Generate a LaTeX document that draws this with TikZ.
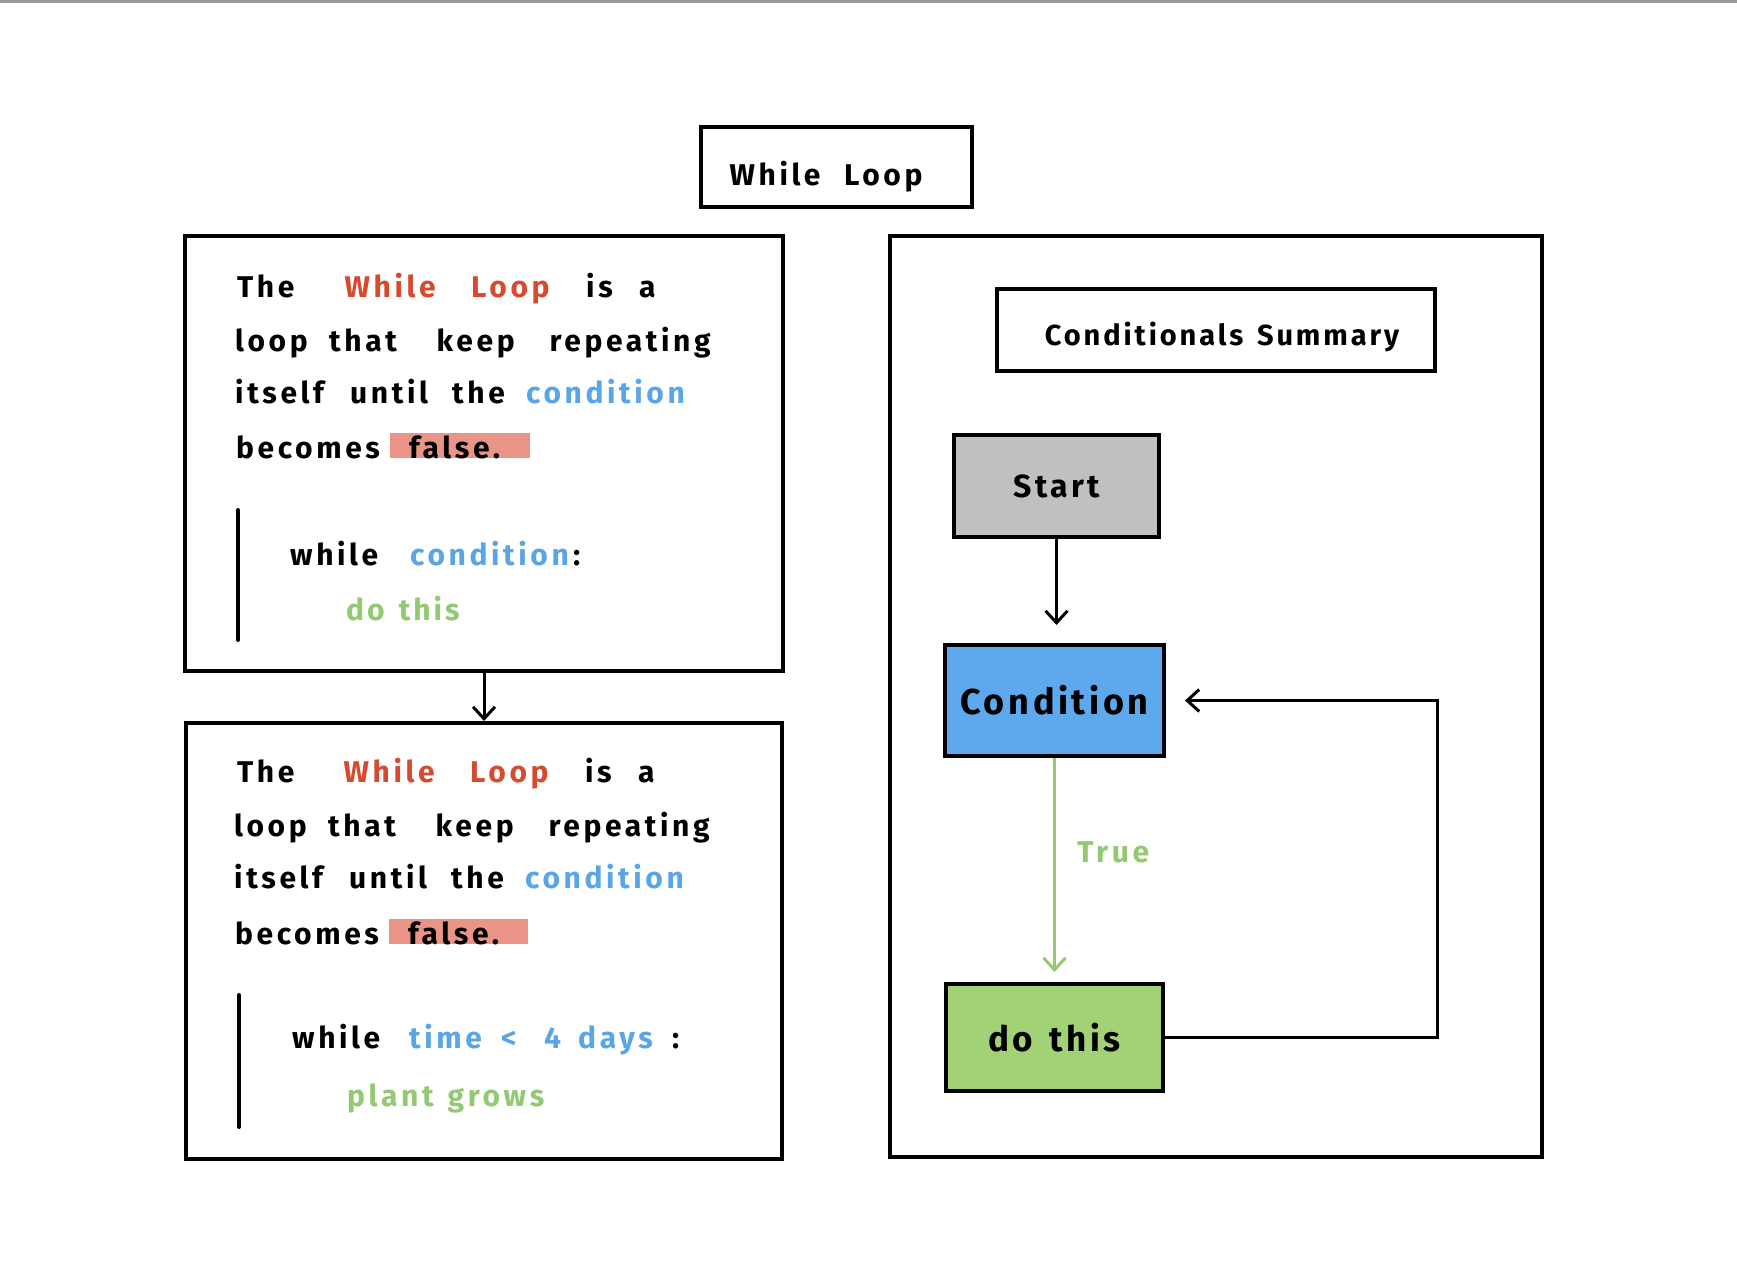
\documentclass[tikz,border=0pt]{standalone}
\usepackage{fontspec}
\setmainfont{Fira Sans}
\newfontfamily\hand[LetterSpace=12,WordSpace=2.2]{Fira Sans}
\newfontfamily\handc[LetterSpace=10,WordSpace=1.4]{Fira Sans}
\newcommand{\wbox}[2]{\makebox[#1pt][l]{#2}}
\usetikzlibrary{arrows.meta,calc}
\definecolor{wred}{HTML}{D64B30}
\definecolor{wblue}{HTML}{5AA5E8}
\definecolor{wgreen}{HTML}{94C973}
\definecolor{hilite}{HTML}{E8887A}
\definecolor{condfill}{HTML}{5EA8EE}
\definecolor{dofill}{HTML}{A3D276}
\definecolor{startfill}{HTML}{C0C0C0}
\definecolor{topline}{HTML}{9A9A9A}
\tikzset{
  box/.style={draw=black, line width=4, rectangle, inner sep=0, fill=white},
  txt/.style={anchor=base west, inner sep=0, font=\hand\bfseries\fontsize{30}{36}\selectfont},
  lbl/.style={font=\hand\bfseries\fontsize{30}{36}\selectfont},
  conn/.style={line width=3, -{Straight Barb[length=12,width=22,line width=3]}},
  bar/.style={line width=4, line cap=round},
  hl/.style={fill=hilite, draw=none, opacity=0.9}
}
\begin{document}
\begin{tikzpicture}[x=1pt,y=-1pt]
\useasboundingbox (0,0) rectangle (1737,1287);
\fill[white] (0,0) rectangle (1737,1287);
\fill[topline] (0,0) rectangle (1737,3);

% title
\node[box, minimum width=271, minimum height=80] (title) at (836.5,167) {};
\node[lbl, anchor=base] (titletxt) at (826,185) {While Loop};

% left boxes
\node[box, minimum width=598, minimum height=435] (lt) at (484,453.5) {};
\node[box, minimum width=596, minimum height=436] (lb) at (484,941) {};
\draw[conn] (lt.south) -- (lb.north);

% top box text
\fill[hl] (390,433) rectangle (530,458);
\node[txt] (t1) at (237,297) {\wbox{107.5}{The}\wbox{126.5}{\textcolor{wred}{While}}\wbox{115}{\textcolor{wred}{Loop}}\wbox{53}{is}a};
\node[txt] (t2) at (235,351) {\wbox{94}{loop}\wbox{107.5}{that}\wbox{113}{keep}repeating};
\node[txt] (t3) at (235,403) {\wbox{115}{itself}\wbox{102}{until}\wbox{74}{the}\textcolor{wblue}{condition}};
\node[txt] (t4) at (236,458) {\wbox{173}{becomes}false.};
\draw[bar] (238,510) -- (238,640);
\node[txt] (t5) at (290,565) {\wbox{120}{while}\wbox{163}{\textcolor{wblue}{condition}}:};
\node[txt, text=wgreen, font=\handc\bfseries\fontsize{30}{36}\selectfont] (t6) at (346,620) {do this};

% bottom box text
\fill[hl] (389,919) rectangle (528,944);
\node[txt] (b1) at (237,782) {\wbox{106.5}{The}\wbox{126.5}{\textcolor{wred}{While}}\wbox{115}{\textcolor{wred}{Loop}}\wbox{53}{is}a};
\node[txt] (b2) at (234,836) {\wbox{94}{loop}\wbox{107.5}{that}\wbox{113}{keep}repeating};
\node[txt] (b3) at (234,888) {\wbox{115}{itself}\wbox{102}{until}\wbox{74}{the}\textcolor{wblue}{condition}};
\node[txt] (b4) at (235,944) {\wbox{173}{becomes}false.};
\draw[bar] (239,995) -- (239,1127);
\node[txt] (b5) at (292,1048) {\wbox{117}{while}\color{wblue}\wbox{92}{time}\wbox{43}{<}\wbox{34}{4}\wbox{94}{days}\color{black}:};
\node[txt, text=wgreen] (b6) at (347,1106) {\wbox{100.5}{plant}grows};

% right panel
\node[box, minimum width=652, minimum height=921] (rbox) at (1216,696.5) {};
\node[box, minimum width=438, minimum height=82] (cs) at (1216,330) {};
\node[lbl, anchor=base, font=\handc\bfseries\fontsize{29}{35}\selectfont] (cstxt) at (1222,345) {Conditionals Summary};

\node[box, fill=startfill, minimum width=205, minimum height=102, font=\handc\bfseries\fontsize{32}{38}\selectfont] (start) at (1056.5,486) {Start};
\node[box, fill=condfill, minimum width=219, minimum height=111, font=\handc\bfseries\fontsize{36}{42}\selectfont] (cond) at (1054.5,700.5) {Condition};
\node[box, fill=dofill, minimum width=217, minimum height=107, font=\handc\bfseries\fontsize{35}{42}\selectfont] (do) at (1054.5,1037.5) {do this};

\draw[conn, shorten >=18] (start.south) -- (start.south |- cond.north);
\draw[conn, draw=wgreen, shorten >=10] (cond.south) -- (cond.south |- do.north)
  node[pos=0.42, anchor=west, xshift=18, text=wgreen, lbl] (truelbl) {True};
\coordinate (loopr) at (1437,0);
\draw[conn, shorten >=19] (do.east) -- (do.east -| loopr) -- (cond.east -| loopr) -- (cond.east);
\end{tikzpicture}
\end{document}
